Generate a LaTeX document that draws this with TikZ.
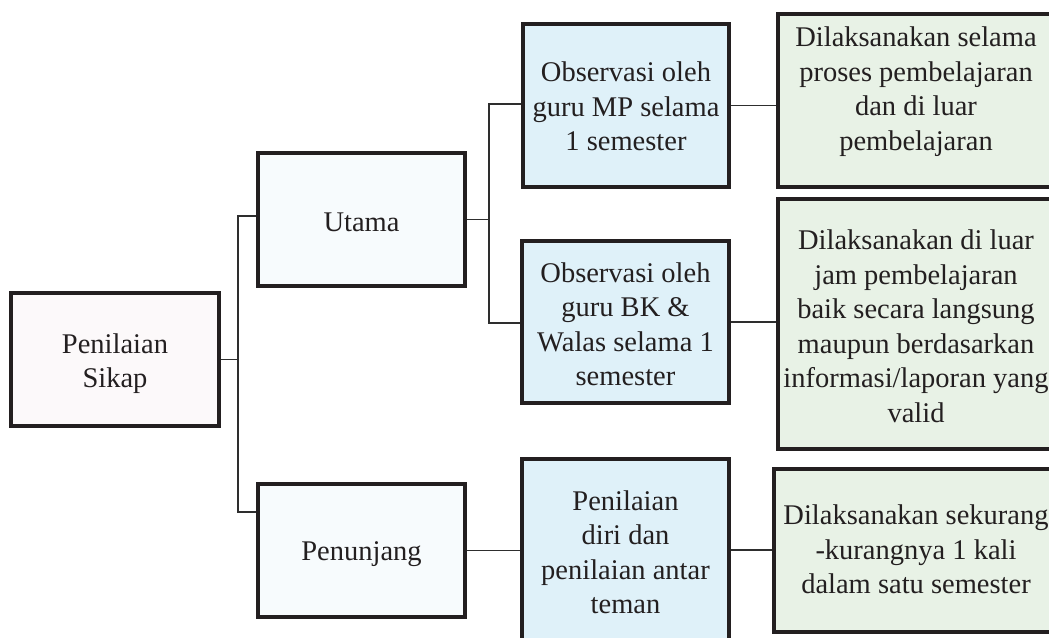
\documentclass[tikz,border=0pt]{standalone}
\usepackage{fontspec}
\setmainfont{Liberation Serif}
\definecolor{inkc}{HTML}{231F20}
\definecolor{linec}{HTML}{2E2E2E}
\definecolor{rootfill}{HTML}{FCF9FA}
\definecolor{midfill}{HTML}{F7FBFD}
\definecolor{bluefill}{HTML}{DFF1F9}
\definecolor{greenfill}{HTML}{E8F2E6}
\tikzset{
  box/.style={draw=inkc, line width=3.6pt, inner sep=0pt},
  txt/.style={text=inkc, align=center, inner sep=0pt,
    font=\fontsize{28.5}{34.5}\selectfont},
  rootbox/.style={box, fill=rootfill},
  midbox/.style={box, fill=midfill},
  bluebox/.style={box, fill=bluefill},
  greenbox/.style={box, fill=greenfill},
  conn/.style={draw=linec, line width=1.5pt}
}
\begin{document}
\begin{tikzpicture}[x=1pt, y=-1pt]
\useasboundingbox (0,0) rectangle (1049,637);
\fill[white] (0,0) rectangle (1049,637);
\clip (0,0) rectangle (1049,637);

% junction points
\coordinate (ja) at (238,216);
\coordinate (jb) at (238,512);
\coordinate (jc) at (489,104);
\coordinate (jd) at (489,323);

% nodes
\node[rootbox, minimum width=208pt, minimum height=133pt,
  label={[txt,yshift=-4pt]center:{Penilaian\\Sikap}}] (sikap) at (115,359.5) {};
\node[midbox, minimum width=207pt, minimum height=133pt,
  label={[txt,yshift=-3pt]center:{Utama}}] (utama) at (361.5,219.5) {};
\node[midbox, minimum width=207pt, minimum height=133pt,
  label={[txt,yshift=-4pt]center:{Penunjang}}] (penunjang) at (361.5,550.5) {};
\node[bluebox, minimum width=206pt, minimum height=163pt,
  label={[txt,yshift=-1pt]center:{Observasi oleh\\guru MP selama\\1 semester}}] (mp) at (626,105.5) {};
\node[bluebox, minimum width=207pt, minimum height=162pt,
  label={[txt,yshift=-2pt]center:{Observasi oleh\\guru BK \&\\Walas selama 1\\semester}}] (bk) at (625.5,322) {};
\node[bluebox, minimum width=207pt, minimum height=182pt,
  label={[txt,yshift=-2pt]center:{Penilaian\\diri dan\\penilaian antar\\teman}}] (diri) at (625.5,550) {};
\node[greenbox, minimum width=276pt, minimum height=173pt,
  label={[txt,yshift=9pt]center:{Dilaksanakan selama\\proses pembelajaran\\dan di luar\\pembelajaran}}] (g1) at (916,100.5) {};
\node[greenbox, minimum width=276pt, minimum height=250pt,
  label={[txt,yshift=-2pt]center:{Dilaksanakan di luar\\jam pembelajaran\\baik secara langsung\\maupun berdasarkan\\informasi/laporan yang\\valid}}] (g2) at (916,324) {};
\node[greenbox, minimum width=284pt, minimum height=163pt,
  label={[txt,yshift=1pt]center:{Dilaksanakan sekurang\\-kurangnya 1 kali\\dalam satu semester}}] (g3) at (916,550.5) {};

% connectors
\draw[conn] (sikap.east) -- (sikap.east -| ja);
\draw[conn] (utama.west |- ja) -- (ja) -- (jb) -- (penunjang.west |- jb);
\draw[conn] (utama.east) -- (utama.east -| jc);
\draw[conn] (mp.west |- jc) -- (jc) -- (jd) -- (bk.west |- jd);
\draw[conn] (mp.east) -- (mp.east -| g1.west);
\draw[conn] (bk.east) -- (bk.east -| g2.west);
\draw[conn] (penunjang.east) -- (penunjang.east -| diri.west);
\draw[conn] (diri.east) -- (diri.east -| g3.west);
\end{tikzpicture}
\end{document}
